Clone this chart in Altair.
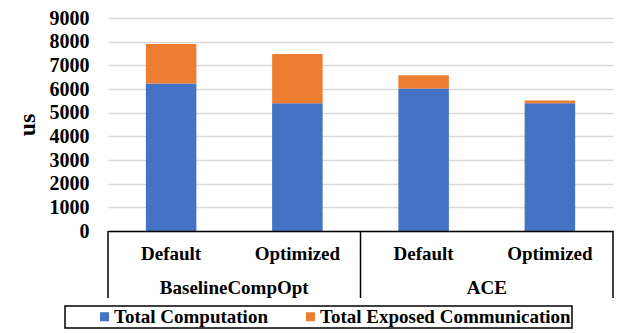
import altair as alt
import pandas as pd

groups = ["BaselineCompOpt", "BaselineCompOpt", "ACE", "ACE"]
configs = ["Default", "Optimized", "Default", "Optimized"]
computation = [6230, 5400, 6020, 5400]
communication = [1670, 2080, 560, 110]
series = ["Total Computation", "Total Exposed Communication"]
colors = ["#4472C4", "#ED7D31"]
y_ticks = [0, 1000, 2000, 3000, 4000, 5000, 6000, 7000, 8000, 9000]

keys = [f"{g}|{c}" for g, c in zip(groups, configs)]
rows = []
for k, g, c, comp, comm in zip(keys, groups, configs, computation, communication):
    rows.append({"key": k, "group": g, "config": c, "series": series[0], "idx": 0, "value": comp})
    rows.append({"key": k, "group": g, "config": c, "series": series[1], "idx": 1, "value": comm})
df = pd.DataFrame(rows)

group_names = list(dict.fromkeys(groups))
first_keys = [keys[groups.index(g)] for g in group_names]
last_keys = [keys[len(groups) - 1 - groups[::-1].index(g)] for g in group_names]
df_groups = pd.DataFrame({"group": group_names, "first": first_keys, "last": last_keys})

FONT = "Liberation Serif"
W, H = 505, 213

xscale = alt.Scale(type="band", domain=keys, paddingInner=0, paddingOuter=0)

bars = alt.Chart(df).mark_bar(width=alt.RelativeBandSize(0.4)).encode(
    x=alt.X("key:N", scale=xscale, sort=keys, title=None,
            axis=alt.Axis(labelExpr="split(datum.label, '|')[1]", labelAngle=0,
                          ticks=False, tickSize=0, labelPadding=22, labelBaseline="middle",
                          labelFont=FONT, labelFontSize=19, labelFontWeight="bold",
                          labelColor="black", domainColor="black", domainWidth=1.5,
                          grid=False, zindex=1)),
    y=alt.Y("value:Q", stack="zero",
            scale=alt.Scale(domain=[0, 9000], nice=False),
            axis=alt.Axis(values=y_ticks, format="d", title="us", domain=False, ticks=False,
                          labelPadding=19, labelFont=FONT, labelFontSize=20,
                          labelFontWeight="bold", labelColor="black",
                          titleFont=FONT, titleFontSize=24, titleFontWeight="bold",
                          titleColor="black", titlePadding=10,
                          gridColor="#d9d9d9", gridWidth=1.5)),
    color=alt.Color("series:N", scale=alt.Scale(domain=series, range=colors),
                    legend=alt.Legend(orient="none", legendX=-43, legendY=288,
                                      direction="horizontal", title=None,
                                      symbolType="square", symbolSize=81,
                                      symbolStrokeWidth=0, symbolOffset=29,
                                      labelOffset=0, columnPadding=4, labelLimit=0,
                                      labelFont=FONT, labelFontSize=19,
                                      labelFontWeight="bold", labelColor="black",
                                      padding=1)),
    order=alt.Order("idx:Q", sort="ascending"),
)

rule_left = alt.Chart(df_groups).mark_rule(color="black", strokeWidth=1.5).encode(
    x=alt.X("first:N", scale=xscale, sort=keys, bandPosition=0),
    y=alt.value(H), y2=alt.value(H + 67),
)
rule_right = alt.Chart(df_groups.tail(1)).mark_rule(color="black", strokeWidth=1.5).encode(
    x=alt.X("last:N", scale=xscale, sort=keys, bandPosition=1),
    y=alt.value(H), y2=alt.value(H + 67),
)
group_text = alt.Chart(df_groups).mark_text(
    font=FONT, fontSize=19, fontWeight="bold", color="black", baseline="middle"
).encode(
    x=alt.X("first:N", scale=xscale, sort=keys, bandPosition=1),
    y=alt.value(H + 57),
    text="group:N",
)

chart = alt.layer(bars, rule_left, rule_right, group_text).properties(
    width=W, height=H,
    autosize=alt.AutoSizeParams(type="none"),
    padding={"left": 100, "top": 10, "right": 2, "bottom": 100},
).configure_view(stroke=None).configure_legend(
    strokeColor="black", strokeWidth=1.5
)

chart.save("out.html", embed_options={"renderer": "svg", "actions": False})
